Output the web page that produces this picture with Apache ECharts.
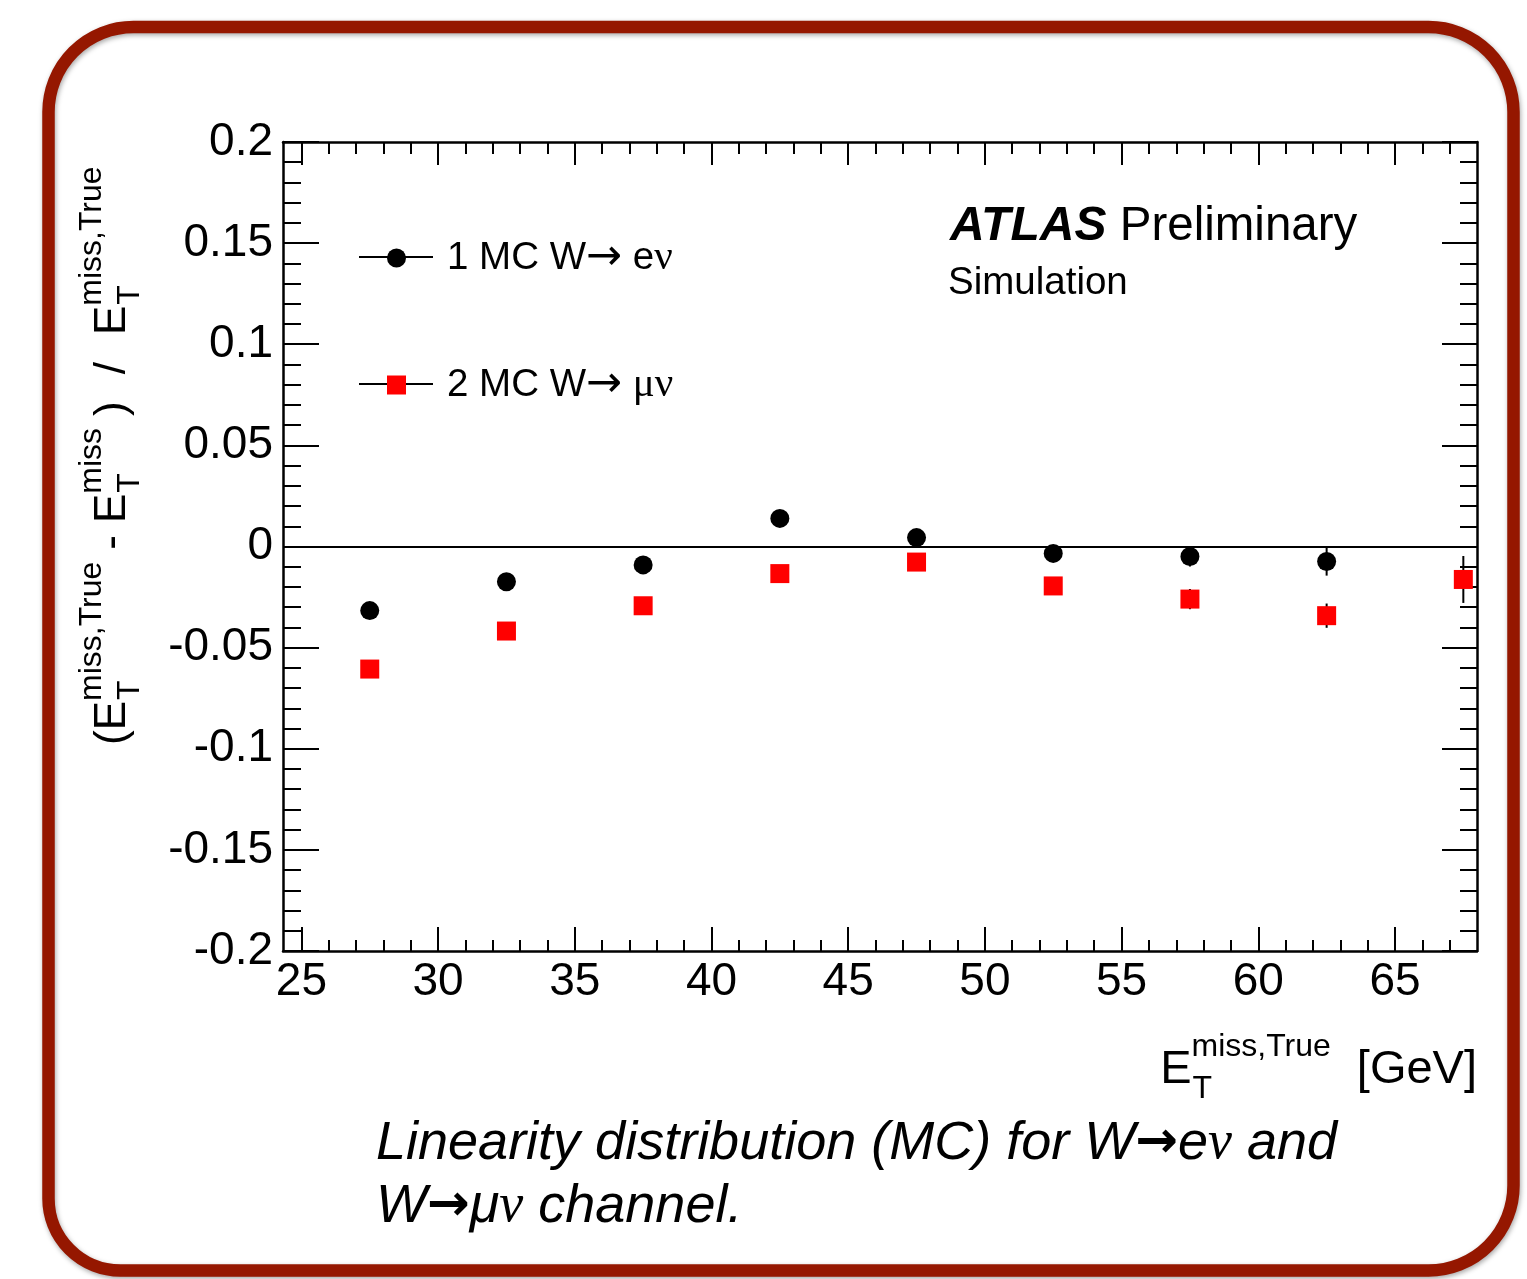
<!DOCTYPE html>
<html><head><meta charset="utf-8">
<script src="https://cdn.jsdelivr.net/npm/echarts@6/dist/echarts.min.js"></script>
<style>html,body{margin:0;padding:0;background:#fff}#c{width:1527px;height:1279px}</style>
</head><body><div id="c"></div>
<script>
// ---- data ----
const binCenters = [27.5, 32.5, 37.5, 42.5, 47.5, 52.5, 57.5, 62.5, 67.5];
const eNuValues  = [-0.0317, -0.0174, -0.0091, 0.0139, 0.0044, -0.0034, -0.0049, -0.0074, null];
const eNuErrors  = [0.002, 0.002, 0.002, 0.002, 0.003, 0.004, 0.005, 0.007, null];
const muNuValues = [-0.0606, -0.0418, -0.0293, -0.0134, -0.0077, -0.0195, -0.0260, -0.0342, -0.0163];
const muNuErrors = [0.002, 0.002, 0.003, 0.003, 0.003, 0.004, 0.005, 0.006, 0.0116];
const xMajorTicks = [25, 30, 35, 40, 45, 50, 55, 60, 65];
const xMinorTicks = [26, 27, 28, 29, 31, 32, 33, 34, 36, 37, 38, 39, 41, 42, 43, 44, 46, 47, 48, 49,
                     51, 52, 53, 54, 56, 57, 58, 59, 61, 62, 63, 64, 66, 67];
const seriesNames = ['1 MC W→ eν', '2 MC W→ μν'];
const captionLines = ['Linearity distribution (MC) for W→eν and', 'W→μν channel.'];

// ---- helpers ----
const SANS = '"Liberation Sans", Arial, Helvetica, sans-serif';
const SERIF = '"Liberation Serif", "Times New Roman", serif';
const DEJAVU = '"DejaVu Sans", sans-serif';
const mctx = document.createElement('canvas').getContext('2d');
function measure(t, size, fam, style, weight) {
  mctx.font = (style || 'normal') + ' ' + (weight || 'normal') + ' ' + size + 'px ' + (fam || SANS);
  return mctx.measureText(t).width;
}
const K = 0.33; // baseline offset below the 'middle' line, in em
function txt(t, x, baseY, size, extra) {
  extra = extra || {};
  return {
    type: 'text', x: x, y: baseY - K * size, silent: true,
    style: Object.assign({
      text: t, fontSize: size, fontFamily: SANS, fill: '#000',
      align: 'left', verticalAlign: 'middle'
    }, extra)
  };
}
// items: {t}, {gap}, {sup, sub}
function mathRun(items, main, small, supDy, subDy) {
  const els = []; let x = 0;
  items.forEach(it => {
    if (it.gap !== undefined) { x += it.gap; return; }
    if (it.t !== undefined) {
      els.push(txt(it.t, x, 0, main));
      x += measure(it.t, main);
      return;
    }
    const ws = measure(it.sup, small), wb = measure(it.sub, small);
    els.push(txt(it.sup, x, supDy, small));
    els.push(txt(it.sub, x + 1, subDy, small));
    x += Math.max(ws, wb);
  });
  return { els: els, width: x };
}
function legendRich(s) {
  return s.replace(/→/g, '{a|→}').replace(/([μν])/g, '{g|$1}');
}
function captionRich(s) {
  return s.replace(/→/g, '{a|→}').replace(/ν/g, '{g|ν}');
}

// ---- axis titles ----
const xTitle = mathRun([{ t: 'E' }, { sup: 'miss,True', sub: 'T' }, { gap: 26 }, { t: '[GeV]' }], 47, 32, -28, 14);
const yTitle = mathRun([
  { t: '(E' }, { sup: 'miss,True', sub: 'T' }, { gap: 12 }, { t: '-' }, { gap: 12 },
  { t: 'E' }, { sup: 'miss', sub: 'T' }, { gap: 12 }, { t: ')' }, { gap: 27 }, { t: '/' }, { gap: 27 },
  { t: 'E' }, { sup: 'miss,True', sub: 'T' }
], 44, 32, -24, 14);

// ---- chart ----
const chart = echarts.init(document.getElementById('c'), null, { renderer: 'canvas' });
const XMIN = 24.327, XMAX = 68;
const axisLineStyle = { color: '#000', width: 2.5 };
const tickLine = { color: '#000', width: 2 };

function xAxisDef(pos, ticks, len, line, labels) {
  return {
    type: 'value', position: pos, min: XMIN, max: XMAX,
    axisLine: { show: line, onZero: false, lineStyle: axisLineStyle },
    axisTick: { show: true, inside: true, length: len, customValues: ticks, lineStyle: tickLine },
    axisLabel: labels ? {
      show: true, customValues: ticks, margin: 8, fontSize: 46, fontFamily: SANS, color: '#000',
      formatter: v => String(v)
    } : { show: false },
    splitLine: { show: false }
  };
}
function yAxisDef(pos, len, minorLen, labels) {
  return {
    type: 'value', position: pos, min: -0.2, max: 0.2, interval: 0.05,
    axisLine: { show: true, onZero: false, lineStyle: axisLineStyle },
    axisTick: { show: true, inside: true, length: len, lineStyle: tickLine },
    minorTick: { show: true, splitNumber: 5, length: minorLen, lineStyle: tickLine },
    axisLabel: labels ? {
      show: true, margin: 10, fontSize: 46, fontFamily: SANS, color: '#000',
      formatter: v => String(Math.round(v * 100) / 100)
    } : { show: false },
    splitLine: { show: false }, minorSplitLine: { show: false }
  };
}

function errData(vals, errs) {
  const out = [];
  binCenters.forEach((x, i) => { if (vals[i] !== null) out.push([x, vals[i], errs[i]]); });
  return out;
}
function ptData(vals) {
  const out = [];
  binCenters.forEach((x, i) => { if (vals[i] !== null) out.push([x, vals[i]]); });
  return out;
}
function errRender(params, api) {
  const x = api.value(0), y = api.value(1), e = api.value(2);
  const p1 = api.coord([x, y - e]), p2 = api.coord([x, y + e]);
  return { type: 'line', shape: { x1: p1[0], y1: p1[1], x2: p2[0], y2: p2[1] },
           style: { stroke: '#000', lineWidth: 2 } };
}
function captionLine(s, baseY) {
  return {
    type: 'text', x: 376, y: baseY - K * 54, silent: true,
    style: {
      text: captionRich(s), verticalAlign: 'middle', align: 'left',
      fontSize: 54, fontFamily: SANS, fontStyle: 'italic', fill: '#000',
      rich: {
        g: { fontSize: 54, fontFamily: SERIF, fontStyle: 'italic', fill: '#000' },
        a: { fontSize: 51, fontFamily: DEJAVU, fontWeight: 'bold', fill: '#000' }
      }
    }
  };
}

const option = {
  animation: false,
  backgroundColor: '#fff',
  grid: { left: 283, top: 142, width: 1194, height: 809, containLabel: false },
  xAxis: [
    xAxisDef('bottom', xMajorTicks, 24, true, true),
    xAxisDef('bottom', xMinorTicks, 11, false, false),
    xAxisDef('top', xMajorTicks, 23, true, false),
    xAxisDef('top', xMinorTicks, 12, false, false)
  ],
  yAxis: [
    yAxisDef('left', 36, 18, true),
    yAxisDef('right', 35, 17, false)
  ],
  legend: {
    orient: 'vertical', left: 387, top: 236, padding: 0, itemGap: 83, z: 5,
    itemWidth: 19, itemHeight: 19, selectedMode: false,
    data: [{ name: seriesNames[0], icon: 'circle' }, { name: seriesNames[1], icon: 'rect' }],
    formatter: name => legendRich(name),
    textStyle: {
      fontSize: 38.5, fontFamily: SANS, color: '#000', padding: [0, 0, 0, 36], lineHeight: 44,
      rich: {
        g: { fontFamily: SERIF, fontSize: 41, lineHeight: 44, color: '#000' },
        a: { fontFamily: DEJAVU, fontSize: 43, lineHeight: 44, color: '#000' }
      }
    }
  },
  series: [
    { type: 'custom', name: 'err1', data: errData(eNuValues, eNuErrors), renderItem: errRender, z: 2, silent: true },
    { type: 'custom', name: 'err2', data: errData(muNuValues, muNuErrors), renderItem: errRender, z: 2, silent: true },
    {
      type: 'scatter', name: seriesNames[0], data: ptData(eNuValues), symbol: 'circle', symbolSize: 19,
      itemStyle: { color: '#000', opacity: 1 }, z: 4, silent: true,
      markLine: {
        silent: true, symbol: ['none', 'none'], label: { show: false },
        lineStyle: { color: '#000', width: 2, type: 'solid' },
        data: [{ yAxis: 0 }]
      }
    },
    {
      type: 'scatter', name: seriesNames[1], data: ptData(muNuValues), symbol: 'rect', symbolSize: 19,
      itemStyle: { color: '#ff0000', opacity: 1 }, z: 5, silent: true
    }
  ],
  graphic: [
    {
      type: 'rect', z: 0, silent: true,
      shape: { x: 48.5, y: 27, width: 1465, height: 1243.5, r: [85, 85, 85, 72] },
      style: { fill: 'none', stroke: '#951700', lineWidth: 12.5,
               shadowBlur: 5, shadowColor: 'rgba(0,0,0,0.35)', shadowOffsetX: 1, shadowOffsetY: 2 }
    },
    { type: 'line', z: 1, silent: true, shape: { x1: 359, y1: 257, x2: 433, y2: 257 }, style: { stroke: '#000', lineWidth: 2 } },
    { type: 'line', z: 1, silent: true, shape: { x1: 359, y1: 384, x2: 433, y2: 384 }, style: { stroke: '#000', lineWidth: 2 } },
    {
      type: 'text', x: 950, y: 243 - K * 48, silent: true,
      style: {
        text: '{a|ATLAS} {b|Preliminary}', verticalAlign: 'middle', align: 'left',
        fontSize: 48, fontFamily: SANS, fill: '#000',
        rich: {
          a: { fontSize: 48, fontFamily: SANS, fontStyle: 'italic', fontWeight: 'bold', fill: '#000' },
          b: { fontSize: 47.5, fontFamily: SANS, fill: '#000' }
        }
      }
    },
    txt('Simulation', 948, 296, 38.5),
    { type: 'group', x: 1477 - xTitle.width, y: 1086, children: xTitle.els },
    { type: 'group', x: 127, y: 745, rotation: Math.PI / 2, children: yTitle.els },
    captionLine(captionLines[0], 1162),
    captionLine(captionLines[1], 1225)
  ]
};
chart.setOption(option);
</script>
</body></html>
